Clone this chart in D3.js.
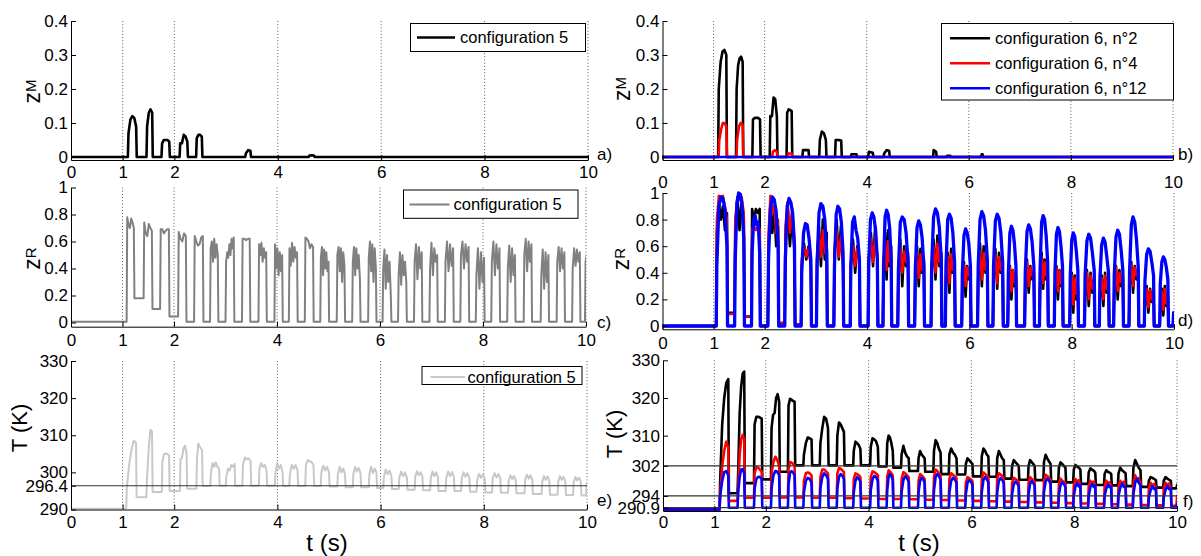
<!DOCTYPE html>
<html><head><meta charset="utf-8">
<script src="https://cdn.jsdelivr.net/npm/d3@7"></script>
<style>
body{margin:0;background:#fff}
svg{display:block}
</style></head><body>
<svg id="chart" width="1201" height="556"></svg>
<script>
// ---------------- DATA ----------------
const xTicks = [0,1,2,4,6,8,10];
const gridTicks = [1,2,4,6,8,10];
const zMTicks = [0,0.1,0.2,0.3,0.4];
const zRTicks = [0,0.2,0.4,0.6,0.8,1];
const t5Ticks = [290,296.4,300,310,320,330];
const t6Ticks = [290.9,294,302,310,320,330];
const t5RefLines = [296.4];
const t6RefLines = [302,294,290.9];

// panel a : z^M configuration 5
const aOn  = [1.10,1.46,1.75,2.10,2.42,3.37,4.60];
const aOff = [1.26,1.57,1.90,2.25,2.53,3.47,4.70];
const aTops = [[0.07,0.11,0.12,0.115,0.09],[0.09,0.13,0.14,0.13],[0.04,0.05,0.05,0.05,0.045],
  [0.04,0.04,0.065,0.06,0.045],[0.055,0.065,0.065,0.06],[0.01,0.02,0.018],[0.004,0.005,0.004]];

// panel b : z^M configuration 6
const bBlackOn  = [1.09,1.44,1.76,2.10,2.43,2.74,3.07,3.38,3.69,4.03,4.33,5.30,5.56,6.24];
const bBlackOff = [1.25,1.57,1.91,2.24,2.53,2.86,3.20,3.50,3.80,4.12,4.44,5.36,5.64,6.27];
const bBlackTops = [[0.2,0.28,0.31,0.315,0.30],[0.2,0.27,0.29,0.295,0.28],[0.11,0.115,0.115,0.115,0.11],
  [0.12,0.12,0.175,0.17,0.12],[0.13,0.14,0.138,0.135],[0.02,0.02,0.02],[0.05,0.075,0.07,0.05],
  [0.05,0.05,0.048],[0.008,0.008],[0.015,0.012],[0.01,0.02,0.018],[0.02,0.015],[0.003,0.003],[0.008]];
const bRedOn  = [1.10,1.45,2.15,2.45];
const bRedOff = [1.25,1.57,2.24,2.53];
const bRedTops = [[0.05,0.08,0.10,0.10,0.09],[0.05,0.09,0.10,0.095],[0.015,0.02,0.015],[0.01,0.01]];
const bBlueOn = [], bBlueOff = [], bBlueTops = [];

// panel c : z^R configuration 5
const cOn  = [1.08,1.41,1.73,2.08,2.39,2.70,3.00,3.32,3.64,3.95,4.23,4.54,4.84,5.16,5.46,5.77,6.05,6.35,6.66,6.96,7.26,7.56,7.86,8.16,8.47,8.79,9.12,9.43,9.73,9.98];
const cOff = [1.22,1.57,1.90,2.23,2.56,2.85,3.16,3.47,3.79,4.10,4.39,4.70,5.00,5.31,5.61,5.92,6.21,6.51,6.81,7.11,7.42,7.72,8.02,8.32,8.62,8.94,9.27,9.58,9.88,10.12];
const cLow = [0.18,0.10,0.045,0.005,0.005,0.005,0.005,0.005,0.005,0.005,0.005,0.005,0.005,0.005,0.005,0.005,0.005,0.005,0.005,0.005,0.005,0.005,0.005,0.005,0.005,0.005,0.005,0.005,0.005,0.005];
const cTops = [
 [0.78,0.72,0.70,0.77,0.74,0.70],[0.74,0.66,0.64,0.73,0.70,0.68],[0.69,0.69,0.66,0.68,0.69,0.69],
 [0.67,0.62,0.60,0.66,0.64],[0.64,0.60,0.57,0.58,0.63,0.64],[0.55,0.60,0.45,0.62,0.48,0.58,0.50],
 [0.45,0.52,0.48,0.58,0.50,0.62,0.55,0.63],[0.62,0.62,0.61,0.62,0.62],[0.58,0.50,0.59,0.45,0.55,0.48,0.52],
 [0.58,0.40,0.55,0.35,0.52,0.38,0.50],[0.55,0.42,0.59,0.45,0.56,0.48,0.52],[0.63,0.62,0.60,0.55,0.58,0.56],
 [0.48,0.56,0.35,0.54,0.40,0.52,0.38,0.45],[0.50,0.56,0.38,0.55,0.30,0.52,0.42],[0.45,0.56,0.35,0.55,0.40,0.50,0.32],
 [0.48,0.60,0.38,0.58,0.30,0.55,0.40],[0.40,0.54,0.25,0.50,0.30,0.45,0.20],[0.35,0.52,0.28,0.50,0.35,0.45,0.30],
 [0.45,0.58,0.32,0.56,0.40,0.52],[0.40,0.59,0.35,0.55,0.45,0.50],[0.45,0.60,0.38,0.58,0.42,0.55],
 [0.50,0.60,0.40,0.58,0.45,0.56],[0.35,0.55,0.25,0.52,0.30,0.48],[0.45,0.60,0.35,0.58,0.40,0.55],
 [0.40,0.57,0.30,0.55,0.35,0.50],[0.50,0.62,0.38,0.60,0.45,0.58],[0.35,0.54,0.25,0.52,0.30,0.50],
 [0.45,0.56,0.38,0.55,0.40,0.52],[0.40,0.55,0.42,0.54,0.45,0.52],[0.45,0.60,0.55]];

// panel d : z^R configuration 6
const dOn  = [1.05,1.41,1.74,2.06,2.39,2.71,3.01,3.35,3.67,4.02,4.31,4.60,4.93,5.25,5.53,5.85,6.16,6.46,6.75,7.08,7.37,7.66,7.96,8.25,8.54,8.82,9.12,9.42,9.72,9.98];
const dOff = [1.26,1.59,1.90,2.26,2.58,2.90,3.21,3.53,3.85,4.20,4.47,4.80,5.11,5.45,5.71,6.02,6.35,6.65,6.91,7.26,7.53,7.82,8.12,8.44,8.72,9.00,9.30,9.60,9.88,10.10];
const dBlackLow = [0.10,0.07,0,0.02,0.01,0,0,0,0,0,0,0,0,0,0,0,0,0,0,0,0,0,0,0,0,0,0,0,0,0];
const dRedLow   = [0.09,0.07,0,0.025,0.01,0,0,0,0,0,0,0,0,0,0,0,0,0,0,0,0,0,0,0,0,0,0,0,0,0];
const dBlueLow  = [0,0,0,0,0,0,0,0,0,0,0,0,0,0,0,0,0,0,0,0,0,0,0,0,0,0,0,0,0,0];
const dBlackTops = [
 [0.70,0.93,0.80,0.90,0.72,0.85],[0.75,0.97,0.72,0.95,0.80],[0.88,0.80,0.88,0.85,0.88],[0.60,0.86,0.70,0.90,0.60,0.75],
 [0.65,0.90,0.60,0.85,0.55],[0.45,0.62,0.50,0.60,0.45],[0.50,0.75,0.45,0.80,0.50,0.70],[0.55,0.80,0.50,0.75,0.45],
 [0.45,0.65,0.40,0.60,0.50],[0.50,0.70,0.45,0.75,0.50],[0.40,0.70,0.35,0.72,0.45,0.60],[0.40,0.65,0.30,0.60,0.45,0.55],
 [0.35,0.60,0.30,0.58,0.40,0.50],[0.40,0.65,0.35,0.68,0.45,0.55],[0.30,0.55,0.25,0.58,0.40,0.50],[0.30,0.48,0.22,0.45,0.35,0.40],
 [0.35,0.62,0.30,0.60,0.40,0.50],[0.35,0.58,0.28,0.55,0.40,0.48],[0.25,0.45,0.20,0.42,0.30,0.38],[0.30,0.50,0.25,0.45,0.35,0.40],
 [0.30,0.55,0.28,0.50,0.35,0.45],[0.25,0.45,0.20,0.42,0.30,0.38],[0.15,0.40,0.10,0.38,0.20,0.30],[0.20,0.42,0.15,0.40,0.25,0.35],
 [0.20,0.38,0.15,0.40,0.25,0.35],[0.25,0.45,0.20,0.42,0.30,0.38],[0.30,0.48,0.25,0.45,0.35,0.42],[0.15,0.30,0.10,0.28,0.18,0.25],
 [0.12,0.28,0.08,0.30,0.15,0.22],[0.05,0.08]];
const dRedTops = [
 [0.80,0.98,0.97,0.98,0.90,0.80],[0.80,0.97,0.95,0.97,0.85],[0.73,0.75,0.72,0.75,0.73],[0.70,0.98,0.85,0.90,0.70,0.80],
 [0.75,0.93,0.70,0.88,0.65],[0.50,0.60,0.52,0.58,0.48],[0.55,0.70,0.52,0.72,0.55,0.62],[0.55,0.72,0.52,0.68,0.50],
 [0.48,0.60,0.45,0.58,0.50],[0.52,0.66,0.48,0.68,0.52],[0.48,0.62,0.42,0.64,0.48,0.55],[0.45,0.60,0.40,0.56,0.48,0.52],
 [0.40,0.55,0.36,0.54,0.42,0.48],[0.45,0.60,0.40,0.62,0.48,0.52],[0.38,0.52,0.32,0.54,0.42,0.48],[0.34,0.46,0.30,0.44,0.38,0.40],
 [0.40,0.56,0.35,0.55,0.42,0.48],[0.38,0.54,0.32,0.52,0.42,0.46],[0.30,0.44,0.26,0.42,0.33,0.38],[0.34,0.48,0.30,0.44,0.38,0.40],
 [0.34,0.52,0.32,0.48,0.38,0.43],[0.30,0.44,0.26,0.42,0.32,0.38],[0.22,0.38,0.16,0.36,0.24,0.30],[0.26,0.40,0.20,0.38,0.28,0.34],
 [0.25,0.36,0.20,0.38,0.28,0.33],[0.30,0.44,0.26,0.40,0.33,0.38],[0.34,0.46,0.30,0.44,0.38,0.42],[0.18,0.28,0.14,0.27,0.20,0.24],
 [0.16,0.26,0.12,0.28,0.17,0.22],[0.05,0.08]];
const dBlueTops = [
 [0.45,0.90,0.97,0.96,0.88,0.60],[0.50,0.92,1.00,0.99,0.90,0.65],[0.55,0.80,0.83,0.76,0.78,0.55],[0.50,0.88,0.97,0.95,0.86,0.60],
 [0.50,0.90,0.96,0.93,0.85,0.60],[0.40,0.70,0.77,0.76,0.66,0.50],[0.45,0.85,0.92,0.90,0.80,0.55],[0.45,0.84,0.90,0.88,0.78,0.55],
 [0.45,0.78,0.82,0.72,0.66,0.50],[0.45,0.80,0.85,0.82,0.72,0.50],[0.45,0.82,0.87,0.84,0.74,0.50],[0.42,0.78,0.82,0.80,0.70,0.48],
 [0.42,0.74,0.79,0.76,0.66,0.45],[0.45,0.82,0.88,0.85,0.74,0.50],[0.45,0.80,0.84,0.81,0.70,0.48],[0.40,0.68,0.73,0.70,0.62,0.45],
 [0.45,0.80,0.86,0.83,0.72,0.50],[0.45,0.79,0.84,0.81,0.70,0.48],[0.40,0.70,0.75,0.72,0.62,0.45],[0.40,0.71,0.76,0.73,0.63,0.45],
 [0.42,0.78,0.83,0.80,0.68,0.48],[0.40,0.69,0.74,0.71,0.60,0.45],[0.38,0.65,0.70,0.67,0.56,0.42],[0.38,0.64,0.69,0.66,0.55,0.42],
 [0.36,0.61,0.66,0.63,0.52,0.40],[0.38,0.67,0.72,0.69,0.57,0.42],[0.42,0.76,0.82,0.78,0.65,0.45],[0.34,0.54,0.58,0.56,0.48,0.38],
 [0.32,0.48,0.52,0.50,0.44,0.35],[0.10,0.10]];

// panel e : T configuration 5
const eOn  = [1.07,1.46,1.76,2.11,2.43,2.70,3.00,3.32,3.64,3.95,4.23,4.54,4.84,5.16,5.46,5.77,6.05,6.35,6.66,6.96,7.26,7.56,7.86,8.16,8.47,8.79,9.12,9.43,9.73,9.98];
const eOff = [1.26,1.57,1.90,2.24,2.54,2.87,3.17,3.48,3.79,4.10,4.39,4.70,5.00,5.31,5.61,5.92,6.21,6.51,6.81,7.11,7.42,7.72,8.02,8.32,8.62,8.94,9.27,9.58,9.88,10.12];
const eLow = [293.3,294.7,295.0,295.6,296.3,296.4,296.4,296.4,296.4,296.3,296.3,296.3,296.2,296.0,296.0,295.8,295.5,295.3,295.2,295.0,295.0,294.8,294.6,294.5,294.4,294.2,294.0,293.9,293.8,293.7];
const eTops = [
 [296,302,306,308.5,308],[298,306,311.5,311],[303,305,305,305,304.5],[303.5,304,306.5,307.2,305],[304,307.8,307,306.5,306],
 [300,302.5,301.5,302.7,301.5,301],[299,301,300.5,302,301.5,302.3],[302,304,303.5,303.8,303],[301,302.5,301.5,302,300.5],
 [300,302.5,301,302,300],[299.5,302,301,302,300.5],[302,303.3,303,302.8,302],[300,301.8,300.5,301.5,300],
 [299.5,301.5,300,301,299.5],[299.5,301.5,300.2,301.2,299.8],[299.5,301.5,299.8,301,300],[298.5,300.8,299.5,300.5,299],
 [298.5,300.2,299,300,298.5],[298.8,300.3,299.2,300,299],[298.5,300.2,299,300,298.8],[298.5,300.2,299,300.1,298.8],
 [298.5,300,298.8,299.8,298.6],[298,299.6,298.5,299.4,298.2],[298.3,299.8,298.6,299.6,298.4],[297.8,299.2,298.2,299,297.9],
 [298,299.4,298.3,299.2,298],[297.5,299,298,298.9,297.8],[297.5,299,298,298.8,297.7],[297.3,298.8,297.8,298.6,297.5],[297,299]];

// panel f : T configuration 6
const fOn  = [1.10,1.45,1.77,2.10,2.43,2.73,3.05,3.38,3.70,4.03,4.35,4.63,4.96,5.26,5.56,5.88,6.19,6.49,6.78,7.10,7.40,7.69,7.98,8.27,8.58,8.85,9.14,9.44,9.73,9.99];
const fOff = [1.27,1.58,1.92,2.26,2.56,2.89,3.21,3.52,3.84,4.18,4.47,4.78,5.09,5.40,5.71,6.02,6.33,6.63,6.92,7.23,7.54,7.83,8.12,8.41,8.72,9.00,9.29,9.59,9.88,10.10];
const fBlackLow = [294.7,297.4,298.4,300.4,302.1,302.1,302.1,302.1,302.1,301.8,301.5,300.6,300.4,299.8,299.7,299.2,299.1,298.6,298.3,298.2,297.8,297.6,297.2,296.9,296.8,296.6,296.4,296.2,296.0,295.8];
const fRedLow = [292.7,293.5,293.5,293.6,293.6,293.5,293.5,293.4,293.3,293.2,293.2,293.1,293.0,292.9,292.8,292.7,292.6,292.5,292.4,292.3,292.2,292.1,292.0,291.9,291.8,291.7,291.6,291.5,291.4,291.3];
const fBlueLow = [290.85,290.85,290.85,290.85,290.85,290.85,290.85,290.85,290.85,290.85,290.85,290.85,290.85,290.85,290.85,290.85,290.85,290.85,290.85,290.85,290.85,290.85,290.85,290.85,290.85,290.85,290.85,290.85,290.85,290.85];
const fBlackTops = [
 [298,313,320,324,325],[300,316,323,326.5,327],[313,315,315,314.8,314.5],[312,315.5,316,320,321,319],[318,319.8,319.5,319.2,319],
 [305,308,309.5,309.3,309],[308,312,315,314.5,312],[310,313.5,313,312,311],[306,308.4,308,307.5,306.5],[307,309.3,309,308.5,307],
 [308,310,309.5,308,306],[305,307.3,305.5,304.5,304],[304,305.9,305,304.5,304],[306,308.8,308,306.5,305.5],[305,306.6,305.5,305,304],
 [302.5,304,303.5,303,302.5],[304.5,306.6,306,305,304.5],[304,305.9,305,304,303.5],[302,303.5,303,302.5,302],[302,303.5,303,302.5,302],
 [303,304.9,304,303.2,302.5],[301.5,302.9,302.5,302,301.5],[301,302.2,301.8,301.5,301],[300.2,301.3,301,300.7,300.2],[299.8,300.8,300.4,300.2,299.8],
 [300,301.5,300.8,300.4,300],[301.5,303.5,302.5,301.5,300.8],[298,299,298.8,298.5,298.2],[298,299,298.6,298.3,298],[297,297.5]];
const fRedTops = [
 [294,302,306,308.4,307],[296,305,309,310.2,309],[300,301.6,301.5,301,300.5],[300,303,304.4,303.5,302],[301,303,302.8,302.5,302],
 [298,300,300.2,300,299.5],[299,301,301,300.5,300],[300,301.4,301.2,300.8,300.3],[298.5,300,299.8,299.5,299],[299,300.5,300.3,300,299.5],
 [299,300.8,300.5,300,299.5],[298.5,300.3,300,299.5,299],[298,299.8,299.5,299,298.5],[299,301,300.6,300,299.5],[298.5,300,299.6,299.2,298.8],
 [297.5,299,298.8,298.4,298],[298.5,300.2,299.8,299.4,299],[298.5,300,299.7,299.3,298.8],[297.5,298.8,298.5,298.2,297.8],[297.5,299,298.6,298.2,297.8],
 [298,299.6,299.3,298.8,298.3],[297,298.6,298,297.8,297.3],[296.8,298.5,297.8,298.2,297],[296.5,298,297.5,297.8,296.8],[296.5,298,297.4,297.6,296.7],
 [296.5,298,297.2,297.8,296.6],[297,299.5,298,298.8,297.2],[296,297.5,296.8,297.2,296.2],[296,297.5,296.8,297.3,296.2],[294,295]];
const fBlueTops = [
 [294,298,300.3,300.6,299.5],[295,299,301,301.1,300],[296,298.5,299.1,299,298.5],[296,299.5,300.6,300.4,299.5],[297,300.2,300.6,300.2,299.5],
 [295,298,298.8,298.5,297.5],[296,299,300,299.5,298.5],[296,299,299.8,299.4,298.5],[295,298,299,298.6,297.8],[295.5,298.5,299.3,299,298],
 [295.5,299,299.8,299.3,298.2],[295,298.2,299.2,298.8,297.8],[295,298,298.8,298.5,297.5],[295.5,299,299.8,299.3,298.3],[295,298,298.8,298.4,297.5],
 [294.5,297.5,298.2,297.8,297],[295,298.2,299,298.5,297.6],[295,298,298.7,298.3,297.4],[294.5,297,297.8,297.4,296.6],[294.5,297.2,297.9,297.5,296.7],
 [295,297.8,298.6,298.2,297.2],[294.3,296.8,297.6,297.2,296.3],[294,296.5,297.5,296.5,297],[294,296.3,297.2,296.4,296.8],[294,296,297,296.3,296.5],
 [294,296.2,297.3,296.4,296.6],[294.5,297.5,298.6,297.5,296.8],[293.5,295.5,296.6,295.8,296],[293.5,295.6,296.7,295.8,296],[292,293]];

// ---------------- DRAWING ----------------
const FONT = '"Liberation Sans", Arial, Helvetica, sans-serif';
const RISE = 0.012, FALL = 0.012;
const svg = d3.select('#chart');

function pulseSeries(base, on, off, low, tops) {
  const pts = [[0, base]];
  let prev = base;
  on.forEach((t0, i) => {
    const t1 = off[i], tp = tops[i];
    const lo = Array.isArray(low) ? low[i] : low;
    pts.push([t0, prev]);
    const n = tp.length;
    tp.forEach((v, j) => {
      const t = n === 1 ? t0 + RISE : t0 + RISE + (t1 - t0 - RISE) * j / (n - 1);
      pts.push([t, v]);
    });
    if (n === 1) pts.push([t1, tp[0]]);
    pts.push([t1 + FALL, lo]);
    prev = lo;
  });
  pts.push([10.3, prev]);
  return pts;
}

const panels = [
 {id:'a', x0:71, x1:588, yTop:21, yBot:160, dom:[-0.009,0.4], ticks:zMTicks, xPad:5.7,
  label:{sym:'z', sup:'M', cx:34, cy:91.5}, tag:{t:'a)', x:597, y:154},
  series:[{pts:pulseSeries(0,aOn,aOff,0,aTops), c:'#000', w:2.6}],
  legend:{x:410.5, y:23.5, w:175, h:28, items:[{c:'#000', w:2.6, t:'configuration 5'}], lx0:417, lx1:455, tx:460, row0:37.5, dy:25},
  refs:[]},
 {id:'b', x0:662.5, x1:1173, yTop:21, yBot:160, dom:[-0.009,0.4], ticks:zMTicks, xPad:15.7,
  label:{sym:'z', sup:'M', cx:624, cy:89}, tag:{t:'b)', x:1178, y:154},
  series:[{pts:pulseSeries(0,bBlackOn,bBlackOff,0,bBlackTops), c:'#000', w:2.6},
          {pts:pulseSeries(0,bRedOn,bRedOff,0,bRedTops), c:'#ff0000', w:2.6},
          {pts:pulseSeries(0,bBlueOn,bBlueOff,0,bBlueTops), c:'#0000ff', w:2.6}],
  legend:{x:941.5, y:23.5, w:232, h:76.5, items:[{c:'#000',w:2.6,t:'configuration 6, n°2'},{c:'#ff0000',w:2.6,t:'configuration 6, n°4'},{c:'#0000ff',w:2.6,t:'configuration 6, n°12'}], lx0:950, lx1:990, tx:995, row0:38.3, dy:25},
  refs:[]},
 {id:'c', x0:71, x1:586, yTop:187.5, yBot:326.7, dom:[-0.031,1], ticks:zRTicks, xPad:7.3,
  label:{sym:'z', sup:'R', cx:34, cy:258.5}, tag:{t:'c)', x:597, y:322},
  series:[{pts:pulseSeries(0.005,cOn,cOff,cLow,cTops), c:'#808080', w:2}],
  legend:{x:403.5, y:190, w:174.5, h:28.3, items:[{c:'#808080',w:2,t:'configuration 5'}], lx0:409.5, lx1:449.5, tx:453.5, row0:204.5, dy:25},
  refs:[]},
 {id:'d', x0:662.5, x1:1174, yTop:193, yBot:329.3, dom:[-0.025,1], ticks:zRTicks, xPad:8,
  label:{sym:'z', sup:'R', cx:623, cy:259}, tag:{t:'d)', x:1178, y:320},
  series:[{pts:pulseSeries(0,dOn,dOff,dBlackLow,dBlackTops), c:'#000', w:2.6},
          {pts:pulseSeries(0,dOn,dOff,dRedLow,dRedTops), c:'#ff0000', w:2.4},
          {pts:pulseSeries(0,dOn,dOff,dBlueLow,dBlueTops), c:'#0000ff', w:3.3}],
  legend:null, refs:[]},
 {id:'e', x0:71, x1:587, yTop:361, yBot:509.5, dom:[290,330], ticks:t5Ticks, xPad:6,
  label:{txt:'T (K)', cx:19, cy:428}, tag:{t:'e)', x:597, y:500},
  series:[{pts:pulseSeries(290.2,eOn,eOff,eLow,eTops), c:'#c8c8c8', w:2}],
  legend:{x:422, y:366.5, w:160, h:18, items:[{c:'#c8c8c8',w:2,t:'configuration 5'}], lx0:430.5, lx1:465, tx:467.5, row0:377, dy:25},
  refs:t5RefLines, xlab:{cx:327, y:550.5}},
 {id:'f', x0:663, x1:1177, yTop:360.3, yBot:511, dom:[290,330], ticks:t6Ticks, xPad:4.7,
  label:{txt:'T (K)', cx:614, cy:434}, tag:{t:'f)', x:1183, y:501},
  series:[{pts:pulseSeries(290.4,fOn,fOff,fBlackLow,fBlackTops), c:'#000', w:2.6},
          {pts:pulseSeries(290.4,fOn,fOff,fRedLow,fRedTops), c:'#ff0000', w:2.6},
          {pts:pulseSeries(290.4,fOn,fOff,fBlueLow,fBlueTops), c:'#0000ff', w:2.6}],
  legend:null, refs:t6RefLines, xlab:{cx:919, y:550.5}}
];

const defs = svg.append('defs');

panels.forEach(p => {
  const x = d3.scaleLinear().domain([0,10]).range([p.x0, p.x1]);
  const y = d3.scaleLinear().domain(p.dom).range([p.yBot, p.yTop]);
  const g = svg.append('g').attr('class','panel-'+p.id);

  defs.append('clipPath').attr('id','clip-'+p.id).append('rect')
    .attr('x', p.x0).attr('y', p.yTop - 12).attr('width', p.x1 - p.x0).attr('height', p.yBot - p.yTop + 12);

  // dotted vertical grid
  g.append('g').selectAll('line').data(gridTicks).join('line')
    .attr('x1', d => x(d)).attr('x2', d => x(d))
    .attr('y1', p.yTop).attr('y2', p.yBot)
    .attr('stroke', '#444').attr('stroke-width', 0.9).attr('stroke-dasharray', '1,2.2');

  // series
  const line = d3.line().x(d => x(d[0])).y(d => y(d[1]));
  const sg = g.append('g').attr('clip-path', 'url(#clip-' + p.id + ')');
  p.series.forEach(s => {
    sg.append('path').attr('d', line(s.pts)).attr('fill', 'none')
      .attr('stroke', s.c).attr('stroke-width', s.w).attr('stroke-linejoin', 'round');
  });

  // reference lines
  g.append('g').selectAll('line').data(p.refs).join('line')
    .attr('x1', p.x0).attr('x2', p.x1).attr('y1', d => y(d)).attr('y2', d => y(d))
    .attr('stroke', '#333').attr('stroke-width', 1.2);

  // axes
  const ya = g.append('g').attr('transform', `translate(${p.x0},0)`)
    .call(d3.axisLeft(y).tickValues(p.ticks).tickFormat(d => String(d))
      .tickSizeInner(-5).tickSizeOuter(0).tickPadding(3));
  const xa = g.append('g').attr('transform', `translate(0,${p.yBot})`)
    .call(d3.axisBottom(x).tickValues(xTicks).tickFormat(d => String(d))
      .tickSizeInner(-5).tickSizeOuter(0).tickPadding(p.xPad));
  [ya, xa].forEach(a => {
    a.attr('font-family', FONT).attr('font-size', 17);
    a.selectAll('path.domain').attr('stroke', '#000').attr('stroke-width', 1);
    a.selectAll('.tick line').attr('stroke', '#000');
    a.selectAll('.tick text').attr('fill', '#000');
  });

  // y label
  if (p.label.sym) {
    const t = g.append('text').attr('transform', `translate(${p.label.cx + 6},${p.label.cy}) rotate(-90)`)
      .attr('text-anchor', 'middle').attr('font-family', FONT).attr('fill', '#000');
    t.append('tspan').attr('font-size', 23).text(p.label.sym);
    t.append('tspan').attr('font-size', 15).attr('dy', -4).text(p.label.sup);
  } else {
    g.append('text').attr('transform', `translate(${p.label.cx},${p.label.cy}) rotate(-90)`)
      .attr('text-anchor', 'middle').attr('dy', '0.35em').attr('font-family', FONT)
      .attr('font-size', 22).attr('fill', '#000').text(p.label.txt);
  }

  // panel tag
  g.append('text').attr('x', p.tag.x).attr('y', p.tag.y).attr('dy', '0.35em')
    .attr('font-family', FONT).attr('font-size', 17).attr('fill', '#000').text(p.tag.t);

  // x label
  if (p.xlab) {
    g.append('text').attr('x', p.xlab.cx).attr('y', p.xlab.y).attr('text-anchor', 'middle')
      .attr('font-family', FONT).attr('font-size', 24).attr('fill', '#000').text('t (s)');
  }

  // legend
  if (p.legend) {
    const L = p.legend;
    const lg = g.append('g');
    lg.append('rect').attr('x', L.x).attr('y', L.y).attr('width', L.w).attr('height', L.h)
      .attr('fill', '#fff').attr('stroke', '#000').attr('stroke-width', 1);
    L.items.forEach((it, i) => {
      const yy = L.row0 + i * L.dy;
      lg.append('line').attr('x1', L.lx0).attr('x2', L.lx1).attr('y1', yy).attr('y2', yy)
        .attr('stroke', it.c).attr('stroke-width', it.w);
      lg.append('text').attr('x', L.tx).attr('y', yy).attr('dy', '0.35em')
        .attr('font-family', FONT).attr('font-size', 16.5).attr('fill', '#000').text(it.t);
    });
  }
});
</script>
</body></html>
